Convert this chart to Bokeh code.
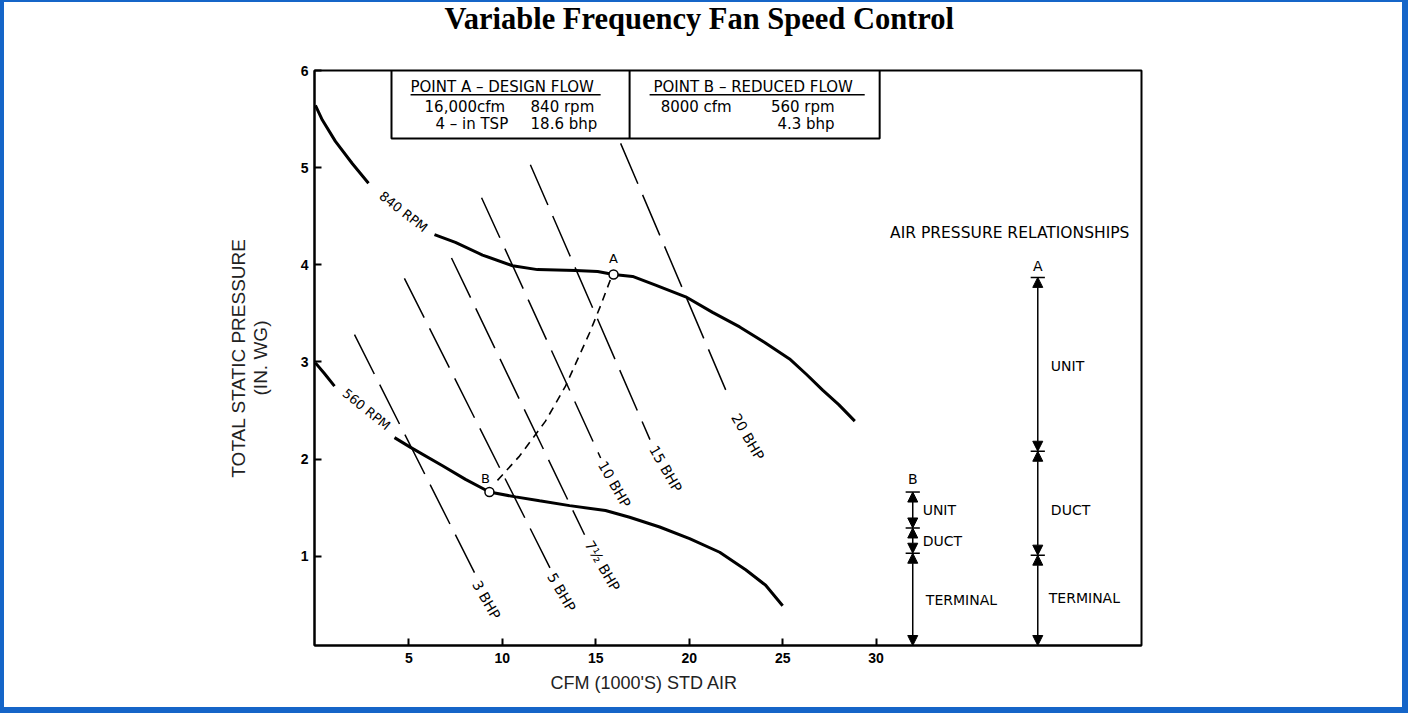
from bokeh.plotting import figure
from bokeh.models import Range1d, FixedTicker, Arrow, NormalHead, Title
from bokeh.core.properties import value
from bokeh.embed import file_html
from bokeh.resources import INLINE

nan = float("nan")

# ---------------- data (x: 1000 cfm, y: in. wg) ----------------
x_ticks = [5, 10, 15, 20, 25, 30]
y_ticks = [1, 2, 3, 4, 5, 6]

rpm840_x = [0.0, 0.37, 1.07, 1.98, 2.84, nan,
            6.37, 7.49, 8.94, 10.55, 11.88, 13.92, 15.1, 15.95, 16.97, 18.2, 19.81, 21.25,
            22.7, 24.04, 25.37, 26.28, 27.14, 28.0, 28.86]
rpm840_y = [5.64, 5.49, 5.27, 5.04, 4.84, nan,
            4.31, 4.23, 4.10, 3.99, 3.95, 3.94, 3.93, 3.90, 3.88, 3.79, 3.67, 3.51,
            3.36, 3.20, 3.03, 2.87, 2.71, 2.56, 2.39]

rpm560_x = [0.0, 0.48, 1.02, nan, 4.23, 5.09, 6.8, 8.03, 9.31, 10.71, 11.99, 13.6, 15.52,
            16.81, 18.42, 20.02, 21.63, 23.02, 24.09, 25.0]
rpm560_y = [2.99, 2.88, 2.75, nan, 2.22, 2.12, 1.93, 1.79, 1.66, 1.61, 1.57, 1.52, 1.47,
            1.40, 1.30, 1.18, 1.04, 0.86, 0.70, 0.49]

rpm_labels = ["840 RPM", "560 RPM"]
rpm_label_x = [4.71, 2.73]
rpm_label_y = [4.545, 2.51]
rpm_label_angle = [-38, -39]

bhp_labels = ["3 BHP", "5 BHP", "7\u00bd BHP", "10 BHP", "15 BHP", "20 BHP"]
bhp_x_top = [2.09, 4.76, 7.28, 8.89, 11.5, 16.33]
bhp_y_top = [3.28, 3.86, 4.07, 4.69, 5.03, 5.25]
bhp_x_bot = [8.51, 12.6, 14.4, 15.26, 17.9, 22.2]
bhp_y_bot = [0.83, 0.86, 1.22, 2.01, 2.20, 2.60]
bhp_label_x = [9.15, 13.17, 15.36, 16.0, 18.74, 23.13]
bhp_label_y = [0.55, 0.63, 0.90, 1.74, 1.90, 2.23]

ab_x = [9.74, 10.92, 12.31, 13.38, 14.67, 15.26, 15.79]
ab_y = [1.78, 2.03, 2.39, 2.75, 3.30, 3.58, 3.85]

point_names = ["A", "B"]
point_x = [15.95, 9.31]
point_y = [3.90, 1.66]
point_label_x = [15.95, 9.1]
point_label_y = [4.06, 1.80]

# air pressure relationships: top, unit/duct, duct/terminal
bar_names = ["B", "A"]
bar_x = [31.96, 38.65]
bar_levels = [[1.66, 1.29, 1.03], [3.87, 2.08, 1.01]]
bar_seg_names = ["UNIT", "DUCT", "TERMINAL"]
bar_text_x = [[32.49, 32.49, 32.66], [39.35, 39.35, 39.24]]
bar_text_y = [[1.48, 1.16, 0.55], [2.96, 1.48, 0.57]]
bar_name_y = [1.79, 3.99]

table_a = ["POINT  A \u2013 DESIGN FLOW", "16,000cfm", "840 rpm", "4 \u2013 in TSP", "18.6 bhp"]
table_b = ["POINT  B \u2013 REDUCED FLOW", "8000 cfm", "560 rpm", "4.3 bhp"]

Y0, Y1 = 0.08, 6.0
X0, X1 = -0.05, 44.2

# ---------------- figure ----------------
p = figure(width=1402, height=707, x_range=Range1d(X0, X1), y_range=Range1d(Y0, Y1),
           output_backend="svg", toolbar_location=None,
           min_border_left=314, min_border_right=261, min_border_top=69, min_border_bottom=62)
p.styles = {"background-color": "white",
            "box-shadow": "inset 4px 2px 0 0 #1565C8, 0 0 0 6px #1565C8"}
p.background_fill_color = "white"
p.border_fill_alpha = 0
p.outline_line_color = "black"
p.outline_line_width = 2
p.xgrid.visible = False
p.ygrid.visible = False

p.title.text = "Variable Frequency Fan Speed Control\n\u00a0"
p.title.text_font = "Liberation Serif"
p.title.text_font_style = "bold"
p.title.text_font_size = "30.5px"
p.title.text_line_height = 0.95
p.title.align = "left"
p.title.vertical_align = "top"
p.title.offset = 130
p.title.standoff = 2
p.title.text_color = "black"

for ax, ticks in ((p.xaxis, x_ticks), (p.yaxis, y_ticks)):
    ax.ticker = FixedTicker(ticks=ticks)
    ax.major_tick_in = 7
    ax.major_tick_out = 0
    ax.minor_tick_in = 0
    ax.minor_tick_out = 0
    ax.axis_line_width = 2
    ax.major_tick_line_width = 2
    ax.major_label_text_font = "Liberation Sans"
    ax.major_label_text_font_style = "bold"
    ax.major_label_text_font_size = "14px"
    ax.major_label_text_color = "black"
p.xaxis.major_label_standoff = 7
p.yaxis.major_label_standoff = 6

p.yaxis.axis_label = "TOTAL STATIC PRESSURE\n(IN. WG)"
p.yaxis.axis_label_text_font = "Liberation Sans"
p.yaxis.axis_label_text_font_style = "normal"
p.yaxis.axis_label_text_font_size = "19px"
p.yaxis.axis_label_text_color = "#222222"
p.yaxis.axis_label_standoff = 27
p.yaxis.axis_label_text_line_height = 1.05

p.add_layout(Title(text="CFM (1000'S) STD AIR", align="left", offset=236, standoff=10,
                   text_font="Liberation Sans", text_font_size="18px", text_font_style="normal",
                   text_color="#222222"), "below")

# fan curves
p.line(rpm840_x, rpm840_y, line_color="black", line_width=3)
p.line(rpm560_x, rpm560_y, line_color="black", line_width=3)
p.text(rpm_label_x, rpm_label_y, text=rpm_labels, angle=rpm_label_angle, angle_units="deg",
       text_align="center", text_baseline="middle", text_font=value("DejaVu Sans"),
       text_font_size="13px", text_color="black")

# BHP lines
p.segment(bhp_x_top, bhp_y_top, bhp_x_bot, bhp_y_bot, line_color="black", line_width=1.5,
          line_dash="44 12")
p.text(bhp_label_x, bhp_label_y, text=bhp_labels, angle=[-60] * len(bhp_labels), angle_units="deg",
       text_align="center", text_baseline="middle", text_font=value("DejaVu Sans"),
       text_font_size="14px", text_color="black")

# A-B path
p.line(ab_x, ab_y, line_color="black", line_width=1.6, line_dash="8 6")
p.scatter(point_x, point_y, marker="circle", size=9, fill_color="white", line_color="black",
          line_width=1.5)
p.text(point_label_x, point_label_y, text=point_names, text_align="center", text_baseline="middle",
       text_font=value("DejaVu Sans"), text_font_size="13px", text_color="black")

# table box
tx0, tx1, tdiv, ty0 = 4.07, 30.19, 16.81, 5.30
p.line([tx0, tx0, tx1, tx1], [Y1, ty0, ty0, Y1], line_color="black", line_width=2)
p.segment([tdiv], [ty0], [tdiv], [Y1], line_color="black", line_width=2)
p.segment([5.09, 17.88], [5.75, 5.75], [15.26, 29.39], [5.75, 5.75], line_color="black", line_width=1.5)
tf = dict(text_baseline="middle", text_font=value("DejaVu Sans"), text_font_size="15px", text_color="black")
p.text([10.12, 23.55], [5.83, 5.83], text=[table_a[0], table_b[0]], text_align="center", **tf)
p.text([5.84, 11.51, 6.42, 11.51, 18.47], [5.625, 5.625, 5.45, 5.45, 5.625],
       text=[table_a[1], table_a[2], table_a[3], table_a[4], table_b[1]], text_align="left", **tf)
p.text([27.78, 27.78], [5.625, 5.45], text=[table_b[2], table_b[3]], text_align="right", **tf)

# air pressure relationships
p.text([37.15], [4.33], text=["AIR PRESSURE RELATIONSHIPS"], text_align="center",
       text_baseline="middle", text_font=value("DejaVu Sans"), text_font_size="15.5px", text_color="black")
for name, bx, levels, txs, tys, ny in zip(bar_names, bar_x, bar_levels, bar_text_x, bar_text_y, bar_name_y):
    stops = levels + [Y0]
    for hi, lo in zip(stops[:-1], stops[1:]):
        p.add_layout(Arrow(x_start=bx, y_start=lo, x_end=bx, y_end=hi, line_width=1.5, line_color="black",
                           start=NormalHead(size=10, fill_color="black", line_color="black", line_width=1),
                           end=NormalHead(size=10, fill_color="black", line_color="black", line_width=1)))
    p.segment([bx - 0.38] * 3, levels, [bx + 0.38] * 3, levels, line_color="black", line_width=1.5)
    p.text([bx], [ny], text=[name], text_align="center", text_baseline="middle",
           text_font=value("DejaVu Sans"), text_font_size="14px", text_color="black")
    p.text(txs, tys, text=bar_seg_names, text_align="left", text_baseline="middle",
           text_font=value("DejaVu Sans"), text_font_size="14px", text_color="black")

open("out.html", "w").write(file_html(p, INLINE))
